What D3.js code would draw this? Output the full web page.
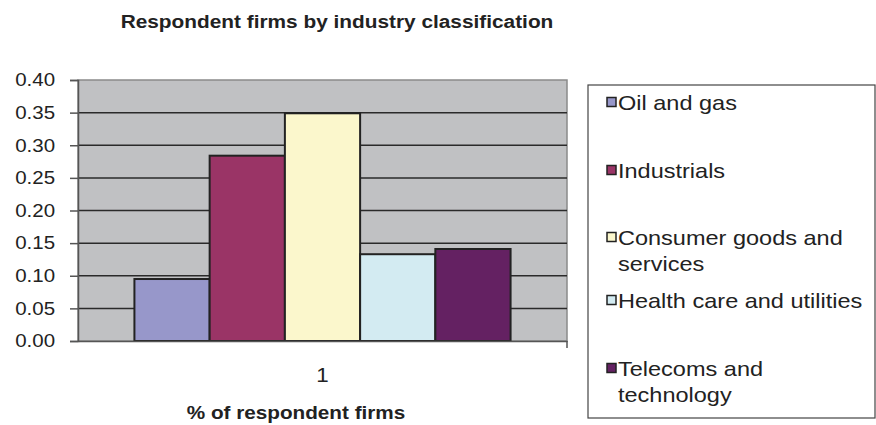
<!DOCTYPE html>
<html>
<head>
<meta charset="utf-8">
<script src="https://cdn.jsdelivr.net/npm/d3@7"></script>
<style>
  body { margin: 0; background: #fff; }
  text { font-family: 'Liberation Sans', Arial, sans-serif; fill: #222; }
</style>
</head>
<body>
<svg id="chart" width="876" height="425"></svg>
<script>
// chart data
const categories = ['1']
const series = ['Oil and gas', 'Industrials', 'Consumer goods and services', 'Health care and utilities', 'Telecoms and technology']
const values = [0.095, 0.284, 0.349, 0.133, 0.141]
const colors = ['#9797ca', '#9a3466', '#fbf7cc', '#d3ebf2', '#642162']
const yTicks = [0, 0.05, 0.1, 0.15, 0.2, 0.25, 0.3, 0.35, 0.4]
// legend labels wrapped like the original
const legendLines = [['Oil and gas'], ['Industrials'], ['Consumer goods and', 'services'], ['Health care and utilities'], ['Telecoms and', 'technology']]

// the original text looks a bit wide, stretch it horizontally
const K = 1.12

let svg = d3.select('#chart')
let plot = {left: 78, right: 567, top: 80, bottom: 341}

let x0 = d3.scaleBand()
  .domain(categories)
  .range([plot.left, plot.right])

// excel gap width ~30%
let groupW = x0.bandwidth() / 1.3
let x1 = d3.scaleBand()
  .domain(series)
  .range([0, groupW])

let y = d3.scaleLinear()
  .domain([0, 0.4])
  .range([plot.bottom, plot.top])

function label (x, yy, size, bold, txt) {
  return svg.append('text')
    .attr('transform', 'translate(' + x + ',' + yy + ') scale(' + K + ',1)')
    .attr('text-anchor', 'middle')
    .style('font-size', size + 'px')
    .style('font-weight', bold ? 'bold' : 'normal')
    .text(txt)
}

// title
label(337, 28, 18.6, true, 'Respondent firms by industry classification')

// plot background
svg.append('rect')
  .attr('x', plot.left)
  .attr('y', plot.top)
  .attr('width', plot.right - plot.left)
  .attr('height', plot.bottom - plot.top)
  .attr('fill', '#c0c1c3')
  .attr('stroke', '#8a8a8a')
  .attr('stroke-width', 1.5)

// gridlines
svg.append('g')
  .selectAll('line')
  .data(yTicks.slice(1, -1))
  .join('line')
    .attr('x1', plot.left)
    .attr('x2', plot.right)
    .attr('y1', d => y(d))
    .attr('y2', d => y(d))
    .attr('stroke', '#2a2a2a')
    .attr('stroke-width', 1.5)

// y axis
let yAxis = svg.append('g')
  .attr('transform', 'translate(' + plot.left + ',0)')
  .call(d3.axisLeft(y)
    .tickValues(yTicks)
    .tickSize(8)
    .tickPadding(12.5)
    .tickFormat(d3.format('.2f')))
yAxis.select('.domain').attr('stroke', '#555').attr('stroke-width', 1.5)
yAxis.selectAll('.tick line').attr('stroke', '#555').attr('stroke-width', 1.5)
yAxis.selectAll('.tick text')
  .attr('transform', 'scale(' + K + ',1)')
  .style('font-size', '18.3px')
  .attr('fill', '#222')

// bars
let group = svg.append('g')
  .selectAll('g')
  .data(categories)
  .join('g')
    .attr('transform', d => 'translate(' + (x0(d) + (x0.bandwidth() - groupW) / 2) + ',0)')

group.selectAll('rect')
  .data(series.map((s, i) => ({s: s, v: values[i], c: colors[i]})))
  .join('rect')
    .attr('x', d => x1(d.s))
    .attr('y', d => y(d.v))
    .attr('width', x1.bandwidth())
    .attr('height', d => y(0) - y(d.v))
    .attr('fill', d => d.c)
    .attr('stroke', '#222')
    .attr('stroke-width', 2)

// x axis
let xAxis = svg.append('g')
  .attr('transform', 'translate(0,' + plot.bottom + ')')
  .call(d3.axisBottom(x0).tickSize(0).tickPadding(27))
xAxis.select('.domain').attr('stroke', '#555').attr('stroke-width', 1.5)
xAxis.selectAll('.tick text')
  .attr('transform', 'scale(' + K + ',1)')
  .style('font-size', '20px')
  .attr('fill', '#222')
svg.append('line')
  .attr('x1', plot.right).attr('x2', plot.right)
  .attr('y1', plot.bottom).attr('y2', plot.bottom + 7)
  .attr('stroke', '#555').attr('stroke-width', 1.5)

label(296, 419, 18.5, true, '% of respondent firms')

// legend
svg.append('rect')
  .attr('x', 588)
  .attr('y', 85)
  .attr('width', 287)
  .attr('height', 333)
  .attr('fill', '#fff')
  .attr('stroke', '#444')
  .attr('stroke-width', 1.2)

let rowY = [102, 170, 237, 300, 368]
let leg = svg.append('g')
  .selectAll('g')
  .data(series)
  .join('g')
    .attr('transform', (d, i) => 'translate(607,' + rowY[i] + ')')

leg.append('rect')
  .attr('x', 0)
  .attr('y', -4.5)
  .attr('width', 9)
  .attr('height', 9)
  .attr('fill', (d, i) => colors[i])
  .attr('stroke', '#222')
  .attr('stroke-width', 1.5)

leg.append('text')
  .attr('transform', 'translate(11,8) scale(' + K + ',1)')
  .style('font-size', '21px')
  .selectAll('tspan')
  .data((d, i) => legendLines[i])
  .join('tspan')
    .attr('x', 0)
    .attr('dy', (d, j) => j === 0 ? 0 : 26.5)
    .text(d => d)
</script>
</body>
</html>
